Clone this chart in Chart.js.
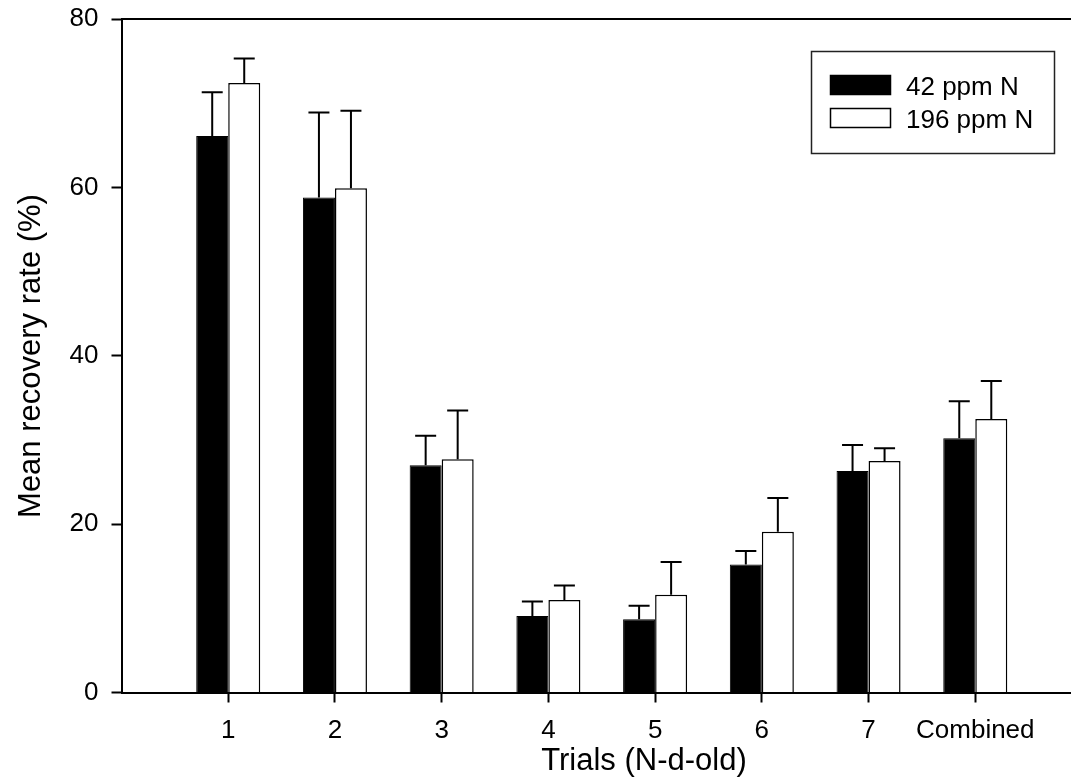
<!DOCTYPE html>
<html>
<head>
<meta charset="utf-8">
<title>Mean recovery rate</title>
<script src="https://cdn.jsdelivr.net/npm/chart.js@4/dist/chart.umd.min.js"></script>
<style>
    html, body { margin: 0; padding: 0; background: #fff; overflow: hidden; }
    #wrap { width: 1071px; height: 780px; overflow: hidden; }
    canvas { display: block; }
</style>
</head>
<body>
<div id="wrap"><canvas id="chart" width="1082" height="780"></canvas></div>
<script>
'use strict'

/******************     DATA    ******************/

const trials = ['1', '2', '3', '4', '5', '6', '7', 'Combined'];
const seriesNames = ['42 ppm N', '196 ppm N'];

// means and upper error (SE) per trial
const lowN = [66.1, 58.8, 27.0, 9.1, 8.7, 15.2, 26.3, 30.2];
const lowNErr = [5.2, 10.1, 3.5, 1.7, 1.6, 1.6, 3.1, 4.4];
const highN = [72.4, 59.9, 27.7, 11.0, 11.6, 19.1, 27.5, 32.5];
const highNErr = [2.9, 9.2, 5.8, 1.7, 3.9, 4.0, 1.5, 4.5];

const yTicks = [0, 20, 40, 60, 80];

const xTitle = 'Trials (N-d-old)';
const yTitle = 'Mean recovery rate (%)';

/******************     HELPERS    ******************/

const FONT = "'Liberation Sans', Arial, Helvetica, sans-serif";
const isDefined = (x) => x != null;
// blank slot at each end so the first group sits one step off the y axis
const padEnds = (arr, fill) => [fill, ...arr, fill];
const edgeTick = (ctx) => (ctx.index === 0 || ctx.index === trials.length + 1) ? 'rgba(0,0,0,0)' : '#000';

/******************     PLUGINS    ******************/

const errorBars = {
    id: 'errorBars',
    afterDatasetsDraw(chart) {
        const ctx = chart.ctx;
        const y = chart.scales.y;
        ctx.save();
        ctx.strokeStyle = '#000';
        ctx.lineWidth = 2;
        chart.data.datasets.forEach((ds, i) => {
            const meta = chart.getDatasetMeta(i);
            meta.data.forEach((bar, j) => {
                const v = ds.data[j];
                if (!isDefined(v)) return;
                const top = y.getPixelForValue(v + ds.errors[j]);
                const half = 10.5;
                ctx.beginPath();
                ctx.moveTo(bar.x, bar.y);
                ctx.lineTo(bar.x, top);
                ctx.moveTo(bar.x - half, top);
                ctx.lineTo(bar.x + half, top);
                ctx.stroke();
            });
        });
        ctx.restore();
    }
};

const frameAndText = {
    id: 'frameAndText',
    afterDraw(chart) {
        const ctx = chart.ctx;
        const area = chart.chartArea;
        ctx.save();
        // top frame line
        ctx.strokeStyle = '#000';
        ctx.lineWidth = 2;
        ctx.beginPath();
        ctx.moveTo(area.left, area.top);
        ctx.lineTo(area.right, area.top);
        ctx.stroke();

        // axis titles
        ctx.fillStyle = '#000';
        ctx.font = `31px ${FONT}`;
        ctx.textAlign = 'center';
        ctx.textBaseline = 'alphabetic';
        ctx.fillText(xTitle, 644, 770);
        ctx.save();
        ctx.translate(40, 356);
        ctx.rotate(-Math.PI / 2);
        ctx.fillText(yTitle, 0, 0);
        ctx.restore();

        // legend box
        ctx.lineWidth = 1.5;
        ctx.strokeStyle = '#222';
        ctx.strokeRect(811.5, 51.5, 243, 102);
        ctx.font = `26px ${FONT}`;
        ctx.textAlign = 'left';
        chart.data.datasets.forEach((ds, i) => {
            const sy = 75 + i * 33;
            ctx.fillStyle = ds.backgroundColor;
            ctx.fillRect(830, sy, 61, 20);
            ctx.strokeStyle = '#000';
            ctx.lineWidth = 1.5;
            ctx.strokeRect(830.5, sy + 0.5, 60, 19);
            ctx.fillStyle = '#000';
            ctx.fillText(ds.label, 906, sy + 20);
        });
        ctx.restore();
    }
};

/******************     CHART    ******************/

const chartData = {
    labels: padEnds(trials, ''),
    datasets: [
        {
            label: seriesNames[0],
            data: padEnds(lowN, null),
            errors: padEnds(lowNErr, null),
            backgroundColor: '#000',
            borderColor: '#000',
            borderWidth: 1
        },
        {
            label: seriesNames[1],
            data: padEnds(highN, null),
            errors: padEnds(highNErr, null),
            backgroundColor: '#fff',
            borderColor: '#000',
            borderWidth: 1.5
        }
    ]
};

Chart.defaults.font.family = FONT;
Chart.defaults.color = '#000';

const chart = new Chart(document.getElementById('chart'), {
    type: 'bar',
    data: chartData,
    options: {
        responsive: false,
        animation: false,
        events: [],
        layout: { padding: { top: 19, right: 0, bottom: 0, left: 0 } },
        datasets: {
            bar: { categoryPercentage: 0.6, barPercentage: 1.0 }
        },
        plugins: {
            legend: { display: false },
            tooltip: { enabled: false }
        },
        scales: {
            x: {
                type: 'category',
                offset: false,
                grid: {
                    offset: false,
                    drawOnChartArea: false,
                    drawTicks: true,
                    tickLength: 10,
                    tickWidth: 2,
                    tickColor: edgeTick
                },
                border: { display: true, color: '#000', width: 2 },
                ticks: {
                    autoSkip: false,
                    maxRotation: 0,
                    padding: 13,
                    font: { size: 26 }
                },
                afterFit: (scale) => {
                    scale.height = 87.5;
                    scale.paddingLeft = 0;
                    scale.paddingRight = 0;
                }
            },
            y: {
                min: 0,
                max: 80,
                afterBuildTicks: (scale) => { scale.ticks = yTicks.map(v => ({ value: v })); },
                grid: {
                    drawOnChartArea: false,
                    drawTicks: true,
                    tickLength: 10,
                    tickWidth: 2,
                    tickColor: '#000'
                },
                border: { display: true, color: '#000', width: 2 },
                ticks: {
                    padding: 13,
                    font: { size: 26 }
                },
                afterFit: (scale) => {
                    scale.width = 121.5;
                    scale.paddingTop = 0;
                    scale.paddingBottom = 0;
                }
            }
        }
    },
    plugins: [errorBars, frameAndText]
});
</script>
</body>
</html>
